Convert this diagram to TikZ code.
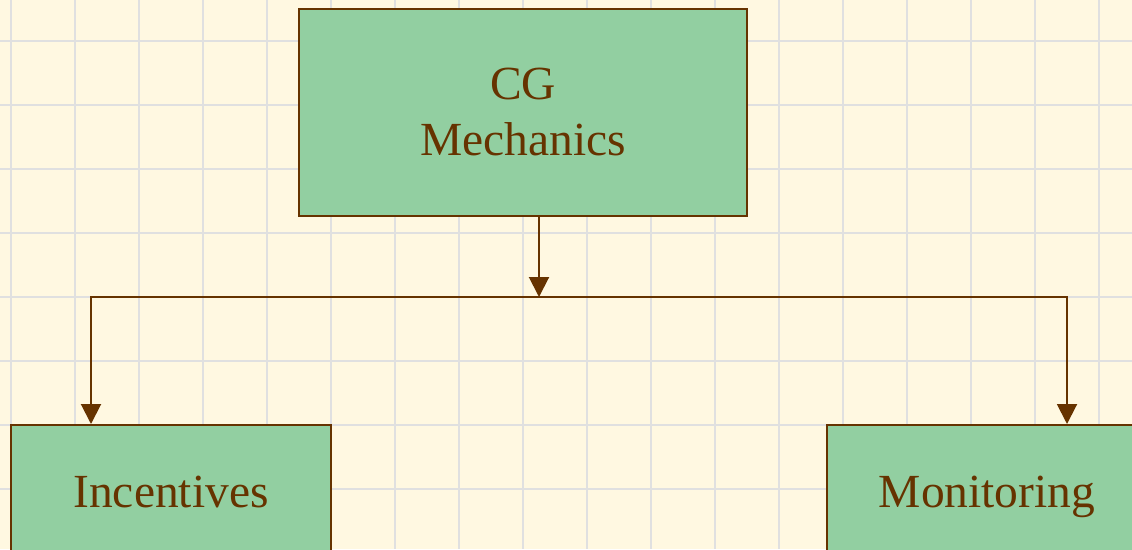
\documentclass[tikz,border=0pt]{standalone}
\usepackage{fontspec}
\setmainfont{Liberation Serif}
\usetikzlibrary{arrows.meta}
\definecolor{paper}{HTML}{FFF8E1}
\definecolor{gridline}{HTML}{E0E0E0}
\definecolor{bark}{HTML}{663300}
\definecolor{leaf}{HTML}{92CFA1}
\tikzset{
  box/.style={draw=bark, fill=leaf, line width=2pt, text=bark, align=center,
    inner sep=0pt, minimum width=#1, font=\fontsize{47.5}{56}\selectfont},
  leafbox/.style={box=320pt, minimum height=130pt, text height=45pt, text depth=10pt},
  link/.style={draw=bark, line width=2pt, -{Triangle[width=20pt,length=20pt]}}
}

\begin{document}
\begin{tikzpicture}[x=1pt, y=-1pt]
% squared paper
\fill[paper] (0,0) rectangle (1132,549);
\useasboundingbox (0,0) rectangle (1132,549);
\foreach \gx in {11,75,...,1099} \draw[gridline, line width=2pt] (\gx,0) -- (\gx,549);
\foreach \gy in {41,105,...,489} \draw[gridline, line width=2pt] (0,\gy) -- (1132,\gy);

\node[box=448pt, minimum height=207pt, text depth=2pt] (mech) at (523,112.5) {CG\\Mechanics};
\node[leafbox] (incent) at (171,490) {Incentives};
\node[leafbox] (monit) at (987,490) {Monitoring};

\coordinate (split) at (539,297);
\draw[link] (mech.south -| split) -- (split);
\draw[link] (split) -| ([xshift=-80pt]incent.north);
\draw[link] (split) -| ([xshift=80pt]monit.north);
\end{tikzpicture}
\end{document}
